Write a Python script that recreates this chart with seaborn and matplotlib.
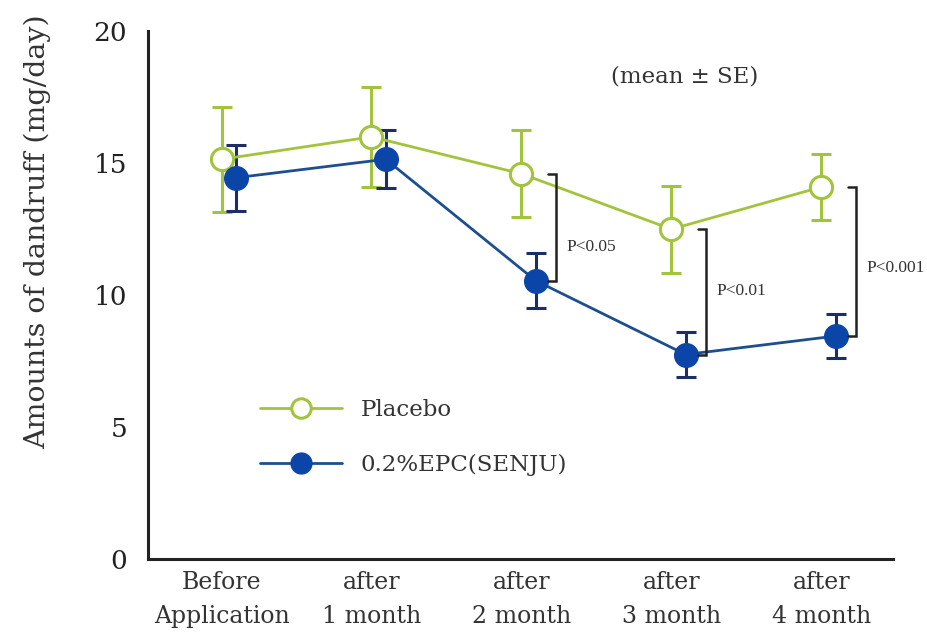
import numpy as np
import pandas as pd
import matplotlib
matplotlib.use("Agg")
import matplotlib.pyplot as plt
import seaborn as sns
from matplotlib.lines import Line2D

# Dandruff amounts over the application period (mean ± SE)
timepoints = ["Before\nApplication", "after\n1 month", "after\n2 month", "after\n3 month", "after\n4 month"]
placebo_mean = [15.15, 16.0, 14.6, 12.5, 14.1]
placebo_se = [2.0, 1.9, 1.65, 1.65, 1.25]
epc_mean = [14.45, 15.15, 10.55, 7.75, 8.45]
epc_se = [1.25, 1.1, 1.05, 0.85, 0.85]
group_names = ["Placebo", "0.2%EPC(SENJU)"]
p_labels = ["P<0.05", "P<0.01", "P<0.001"]
p_timepoints = [2, 3, 4]

placebo_color = "#a2c43c"
epc_face = "#0b45a8"
epc_line = "#1d4f8e"
epc_err = "#1b2f66"

sns.set_theme(style="white")
plt.rcParams["font.family"] = ["DejaVu Serif"]

fig = plt.figure(figsize=(9.27, 6.35), dpi=100)
ax = fig.add_axes([0.1597, 0.1197, 0.804, 0.831])

idx = np.arange(len(timepoints))
df = pd.DataFrame({
    "pos": np.concatenate([idx, idx + 0.095]),
    "mean": placebo_mean + epc_mean,
    "se": placebo_se + epc_se,
    "group": [group_names[0]] * len(idx) + [group_names[1]] * len(idx),
})

pl = df[df.group == group_names[0]]
ep = df[df.group == group_names[1]]

# error bars
ax.errorbar(pl["pos"], pl["mean"], yerr=pl["se"], fmt="none", ecolor=placebo_color,
            elinewidth=2.2, capsize=7, capthick=2.2, zorder=2)
ax.errorbar(ep["pos"], ep["mean"], yerr=ep["se"], fmt="none", ecolor=epc_err,
            elinewidth=2.2, capsize=7, capthick=2.2, zorder=3)

# lines with markers
sns.lineplot(data=pl, x="pos", y="mean", ax=ax, color=placebo_color, linewidth=2.0,
             marker="o", markersize=16, markerfacecolor="white", markeredgecolor=placebo_color,
             markeredgewidth=2.2, legend=False, zorder=4)
sns.lineplot(data=ep, x="pos", y="mean", ax=ax, color=epc_line, linewidth=2.0,
             marker="o", markersize=17, markerfacecolor=epc_face, markeredgecolor=epc_face,
             markeredgewidth=1.0, legend=False, zorder=5)

# significance brackets between the two groups
label_shift = [-0.75, 0.05, -0.25]
for t, lab, dy in zip(p_timepoints, p_labels, label_shift):
    bx = t + 0.23
    top = placebo_mean[t]
    bot = epc_mean[t]
    ax.plot([bx - 0.05, bx, bx, bx - 0.05], [top, top, bot, bot], color="#222222",
            linewidth=1.8, solid_joinstyle="miter", zorder=6)
    ax.text(bx + 0.07, (top + bot) / 2 + dy, lab, fontsize=12.5, color="#333333",
            va="center", ha="left", family=["Liberation Serif"])

ax.text(2.6, 18.3, "(mean ± SE)", fontsize=16.5, color="#333333", ha="left", va="center",
        family=["DejaVu Serif"])

ax.set_xlim(-0.49, 4.48)
ax.set_ylim(0, 20)
ax.set_yticks([0, 5, 10, 15, 20])
ax.set_xticks(idx)
ax.set_xticklabels(timepoints, fontsize=17, color="#333333", linespacing=1.6)
ax.tick_params(axis="y", labelsize=19, length=9, width=2, direction="out", colors="#222222",
               pad=6)
ax.tick_params(axis="x", length=8, width=2, direction="in", colors="#222222", pad=9)
for lbl in ax.get_xticklabels():
    lbl.set_color("#333333")
ax.set_xlabel("")
ax.set_ylabel("Amounts of dandruff (mg/day)", fontsize=20.5, color="#333333")
ax.yaxis.set_label_coords(-0.13, 0.62)

sns.despine(ax=ax)
for side in ["left", "bottom"]:
    ax.spines[side].set_linewidth(2.2)
    ax.spines[side].set_color("#222222")

handles = [
    Line2D([], [], color=placebo_color, linewidth=2.0, marker="o", markersize=14,
           markerfacecolor="white", markeredgecolor=placebo_color, markeredgewidth=2.2),
    Line2D([], [], color=epc_line, linewidth=2.0, marker="o", markersize=15,
           markerfacecolor=epc_face, markeredgecolor=epc_face),
]
leg = ax.legend(handles, group_names, loc="upper left", bbox_to_anchor=(0.122, 0.343),
                frameon=False, handlelength=3.6, fontsize=16.5, labelspacing=1.45,
                handletextpad=0.8)
for t in leg.get_texts():
    t.set_color("#333333")

fig.savefig("out.png", dpi=100)
